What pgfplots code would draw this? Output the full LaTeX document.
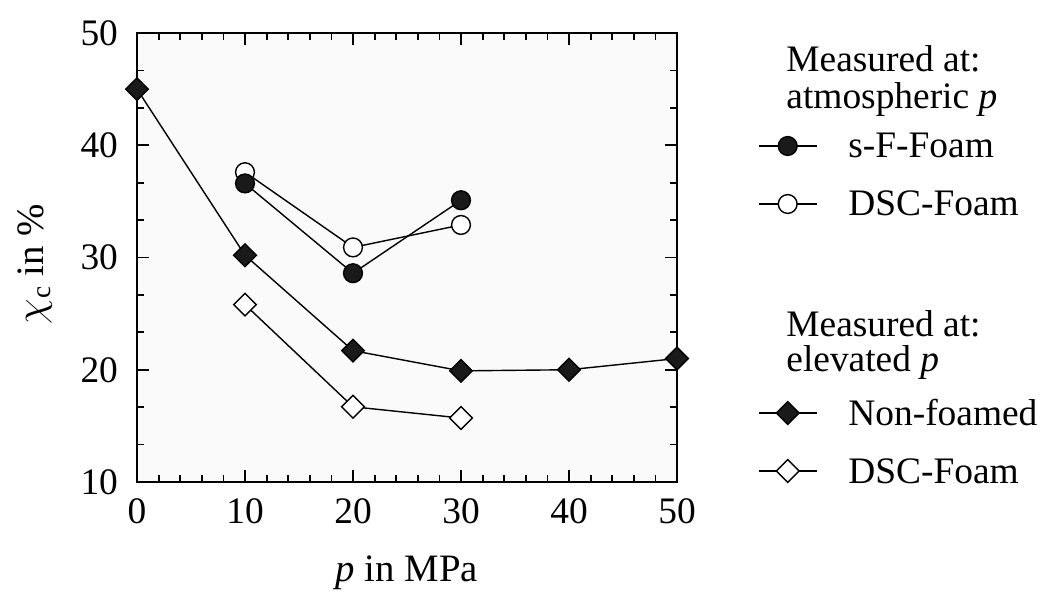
\documentclass[border=0pt]{standalone}
\usepackage{fontspec}
\setmainfont{Liberation Serif}
\usepackage{pgfplots}
\pgfplotsset{compat=1.18}
\definecolor{mk}{HTML}{1A1A1A}
\newcommand{\fs}{\fontsize{18.7}{22}\selectfont}
\newcommand{\fl}{\fontsize{19.4}{23}\selectfont}

\pgfplotsset{
  grp/.style={
    legend cell align=left,
    legend style={draw=none, fill=none, at={(axis description cs:1,1)},
      anchor=north west, xshift=40.5pt,
      inner sep=0pt, outer sep=0pt, row sep=13pt, font=\fs,
      nodes={inner sep=0pt, outer sep=0pt, text height=14pt, text depth=2pt},
      /tikz/every odd column/.append style={column sep=15.5pt}},
    legend image code/.code={\draw[mark repeat=2,mark phase=2]
      plot coordinates {(0pt,0pt) (14.5pt,0pt) (29pt,0pt)};},
  },
  every axis plot/.append style={black, line width=0.7pt},
}
\tikzset{hdr/.style={anchor=west, inner sep=0pt, text height=14pt, text depth=2pt, font=\fs}}

\begin{document}
\begin{tikzpicture}
\begin{axis}[
  name=ax, scale only axis, width=270pt, height=224.5pt,
  xmin=0, xmax=50, ymin=10, ymax=50,
  xtick={0,10,...,50}, ytick={10,20,...,50},
  minor x tick num=4, minor y tick num=2,
  tick align=inside, major tick length=6pt, minor tick length=3.5pt,
  axis line style={line width=1pt}, tick style={line width=0.9pt, black},
  axis background/.style={fill=black!2},
  clip=false,
  /pgf/number format/assume math mode=true,
  tick label style={font=\fs},
  xticklabel style={yshift=-5pt},
  yticklabel style={xshift=-6pt},
  label style={font=\fl},
  xlabel={\textit{p} in MPa},
  ylabel={$\chi$\textsubscript{c} in \%},
  xlabel style={at={(axis description cs:0.5,-0.2027)}, anchor=center},
  ylabel style={at={(axis description cs:-0.189,0.4855)}, anchor=center},
  grp, legend style={yshift=-48.5pt},
]
\addlegendimage{mark=*, mark size=4.7pt, mark options={fill=mk}}
\addlegendentry{s-F-Foam}
\addlegendimage{mark=*, mark size=4.7pt, mark options={fill=white}}
\addlegendentry{DSC-Foam}

% measured at atmospheric p
\addplot[forget plot, mark=*, mark size=4.7pt, mark options={fill=white}]
  coordinates {(10,37.6) (20,30.9) (30,32.9)};
\addplot[forget plot, mark=*, mark size=4.7pt, mark options={fill=mk}]
  coordinates {(10,36.6) (20,28.6) (30,35.1)};
% measured at elevated p
\addplot[forget plot, mark=square*, mark size=4pt, mark options={rotate=45, fill=white}]
  coordinates {(10,25.8) (20,16.7) (30,15.7)};
\addplot[forget plot, mark=square*, mark size=4pt, mark options={rotate=45, fill=mk}]
  coordinates {(0,45) (10,30.2) (20,21.7) (30,19.9) (40,20) (50,21)};
\end{axis}

% second legend group
\begin{axis}[
  at={(ax.south west)}, anchor=south west,
  scale only axis, width=270pt, height=224.5pt, hide axis,
  xmin=0, xmax=1, ymin=0, ymax=1,
  grp, legend style={yshift=-182pt},
]
\addlegendimage{mark=square*, mark size=4pt, mark options={rotate=45, fill=mk}}
\addlegendentry{Non-foamed}
\addlegendimage{mark=square*, mark size=4pt, mark options={rotate=45, fill=white}}
\addlegendentry{DSC-Foam}
\end{axis}

\node[hdr] at ([xshift=54.5pt,yshift=-13.5pt]ax.north east) {Measured at:};
\node[hdr] at ([xshift=54.5pt,yshift=-32pt]ax.north east) {atmospheric \textit{p}};
\node[hdr] at ([xshift=54.5pt,yshift=-146pt]ax.north east) {Measured at:};
\node[hdr] at ([xshift=54.5pt,yshift=-163.5pt]ax.north east) {elevated \textit{p}};

\pgfresetboundingbox
\path (ax.south west) ++(-68.5pt,-58.5pt) rectangle ++(521.5pt,299.5pt);
\end{tikzpicture}
\end{document}
